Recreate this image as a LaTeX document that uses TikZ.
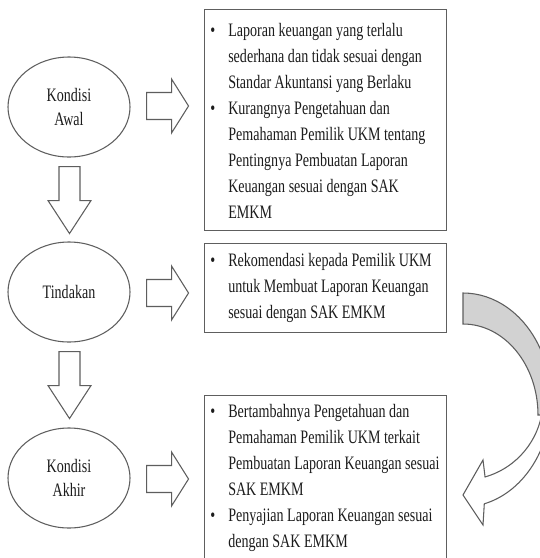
\documentclass[tikz,border=0pt]{standalone}
\usepackage{fontspec}
\setmainfont{Liberation Serif}[FakeStretch=0.74]
\usetikzlibrary{shapes.geometric,calc}
\definecolor{linegray}{HTML}{5E5E5E}
\definecolor{backgray}{HTML}{D2D2D2}
\definecolor{ink}{HTML}{1C1C1C}
\newcommand{\bl}{\textbullet}
\begin{document}
\begin{tikzpicture}[x=0.75pt,y=-0.75pt,
  outline/.style={draw=linegray,line width=0.8pt},
  oval/.style={outline,ellipse,minimum width=91.5pt,minimum height=75pt,inner sep=0pt,
    align=center,text=ink,font=\fontsize{14.25pt}{18pt}\selectfont},
  listbox/.style={outline,rectangle,minimum width=181.5pt,inner sep=0pt,anchor=north west},
  listtext/.style={anchor=north west,inner sep=0pt,text=ink,font=\fontsize{14.25pt}{19.5pt}\selectfont},
  blockarrow/.style={outline,fill=white,line join=miter},
  backface/.style={outline,fill=backgray},
  frontface/.style={outline,fill=white},
  harrow/.pic={\path[blockarrow] (0,-13.5) -- (25,-13.5) -- (25,-27) -- (42,0) -- (25,27) -- (25,13.5) -- (0,13.5) -- cycle;},
  varrow/.pic={\path[blockarrow] (-10.5,0) -- (10.5,0) -- (10.5,34) -- (21.5,34) -- (0,67) -- (-21.5,34) -- (-10.5,34) -- cycle;}
]
\fill[white] (0,0) rectangle (540,558);
\useasboundingbox (0,0) rectangle (540,558);
\begin{scope}
\clip (0,0) rectangle (540,558);

% ovals
\node[oval] (e1) at (69,107) {Kondisi\\Awal};
\node[oval] (e2) at (69,292) {Tindakan};
\node[oval] (e3) at (69,478) {Kondisi\\Akhir};

% boxes
\node[listbox,minimum height=165.75pt] (b1) at (204,9) {};
\node[listbox,minimum height=66.75pt] (b2) at (204,243) {};
\node[listbox,minimum height=127.5pt] (b3) at (204,395) {};

% texts
\node[listtext] (t1) at (210,18.3) {\begin{tabular}{@{}p{13.5pt}@{}l@{}}
\bl & Laporan keuangan yang terlalu\\
 & sederhana dan tidak sesuai dengan\\
 & Standar Akuntansi yang Berlaku\\
\bl & Kurangnya Pengetahuan dan\\
 & Pemahaman Pemilik UKM tentang\\
 & Pentingnya Pembuatan Laporan\\
 & Keuangan sesuai dengan SAK\\
 & EMKM
\end{tabular}};
\node[listtext] (t2) at (210,248.3) {\begin{tabular}{@{}p{13.5pt}@{}l@{}}
\bl & Rekomendasi kepada Pemilik UKM\\
 & untuk Membuat Laporan Keuangan\\
 & sesuai dengan SAK EMKM
\end{tabular}};
\node[listtext] (t3) at (210,399.3) {\begin{tabular}{@{}p{13.5pt}@{}l@{}}
\bl & Bertambahnya Pengetahuan dan\\
 & Pemahaman Pemilik UKM terkait\\
 & Pembuatan Laporan Keuangan sesuai\\
 & SAK EMKM\\
\bl & Penyajian Laporan Keuangan sesuai\\
 & dengan SAK EMKM
\end{tabular}};

% block arrows
\pic at ($(e1.east)+(16,-1)$) {harrow};
\pic at ($(e2.east)+(16,1)$) {harrow};
\pic at ($(e3.east)+(16,1)$) {harrow};
\pic at ($(e1.south)+(0.5,9)$) {varrow};
\pic at ($(e2.south)+(0.5,9)$) {varrow};

% curved arrow
\path[backface] (463,293) arc[start angle=-90,end angle=8,x radius=88,y radius=107]
  -- (538,415) arc[start angle=0,end angle=-90,x radius=75,y radius=91] -- cycle;
\path[frontface] (542.7,407) arc[start angle=5,end angle=74,radius=80]
  -- (483,460) -- (463,495) -- (483,525) -- (484.3,503.8)
  arc[start angle=76,end angle=8,x radius=88,y radius=107] -- cycle;
\end{scope}
\end{tikzpicture}
\end{document}
